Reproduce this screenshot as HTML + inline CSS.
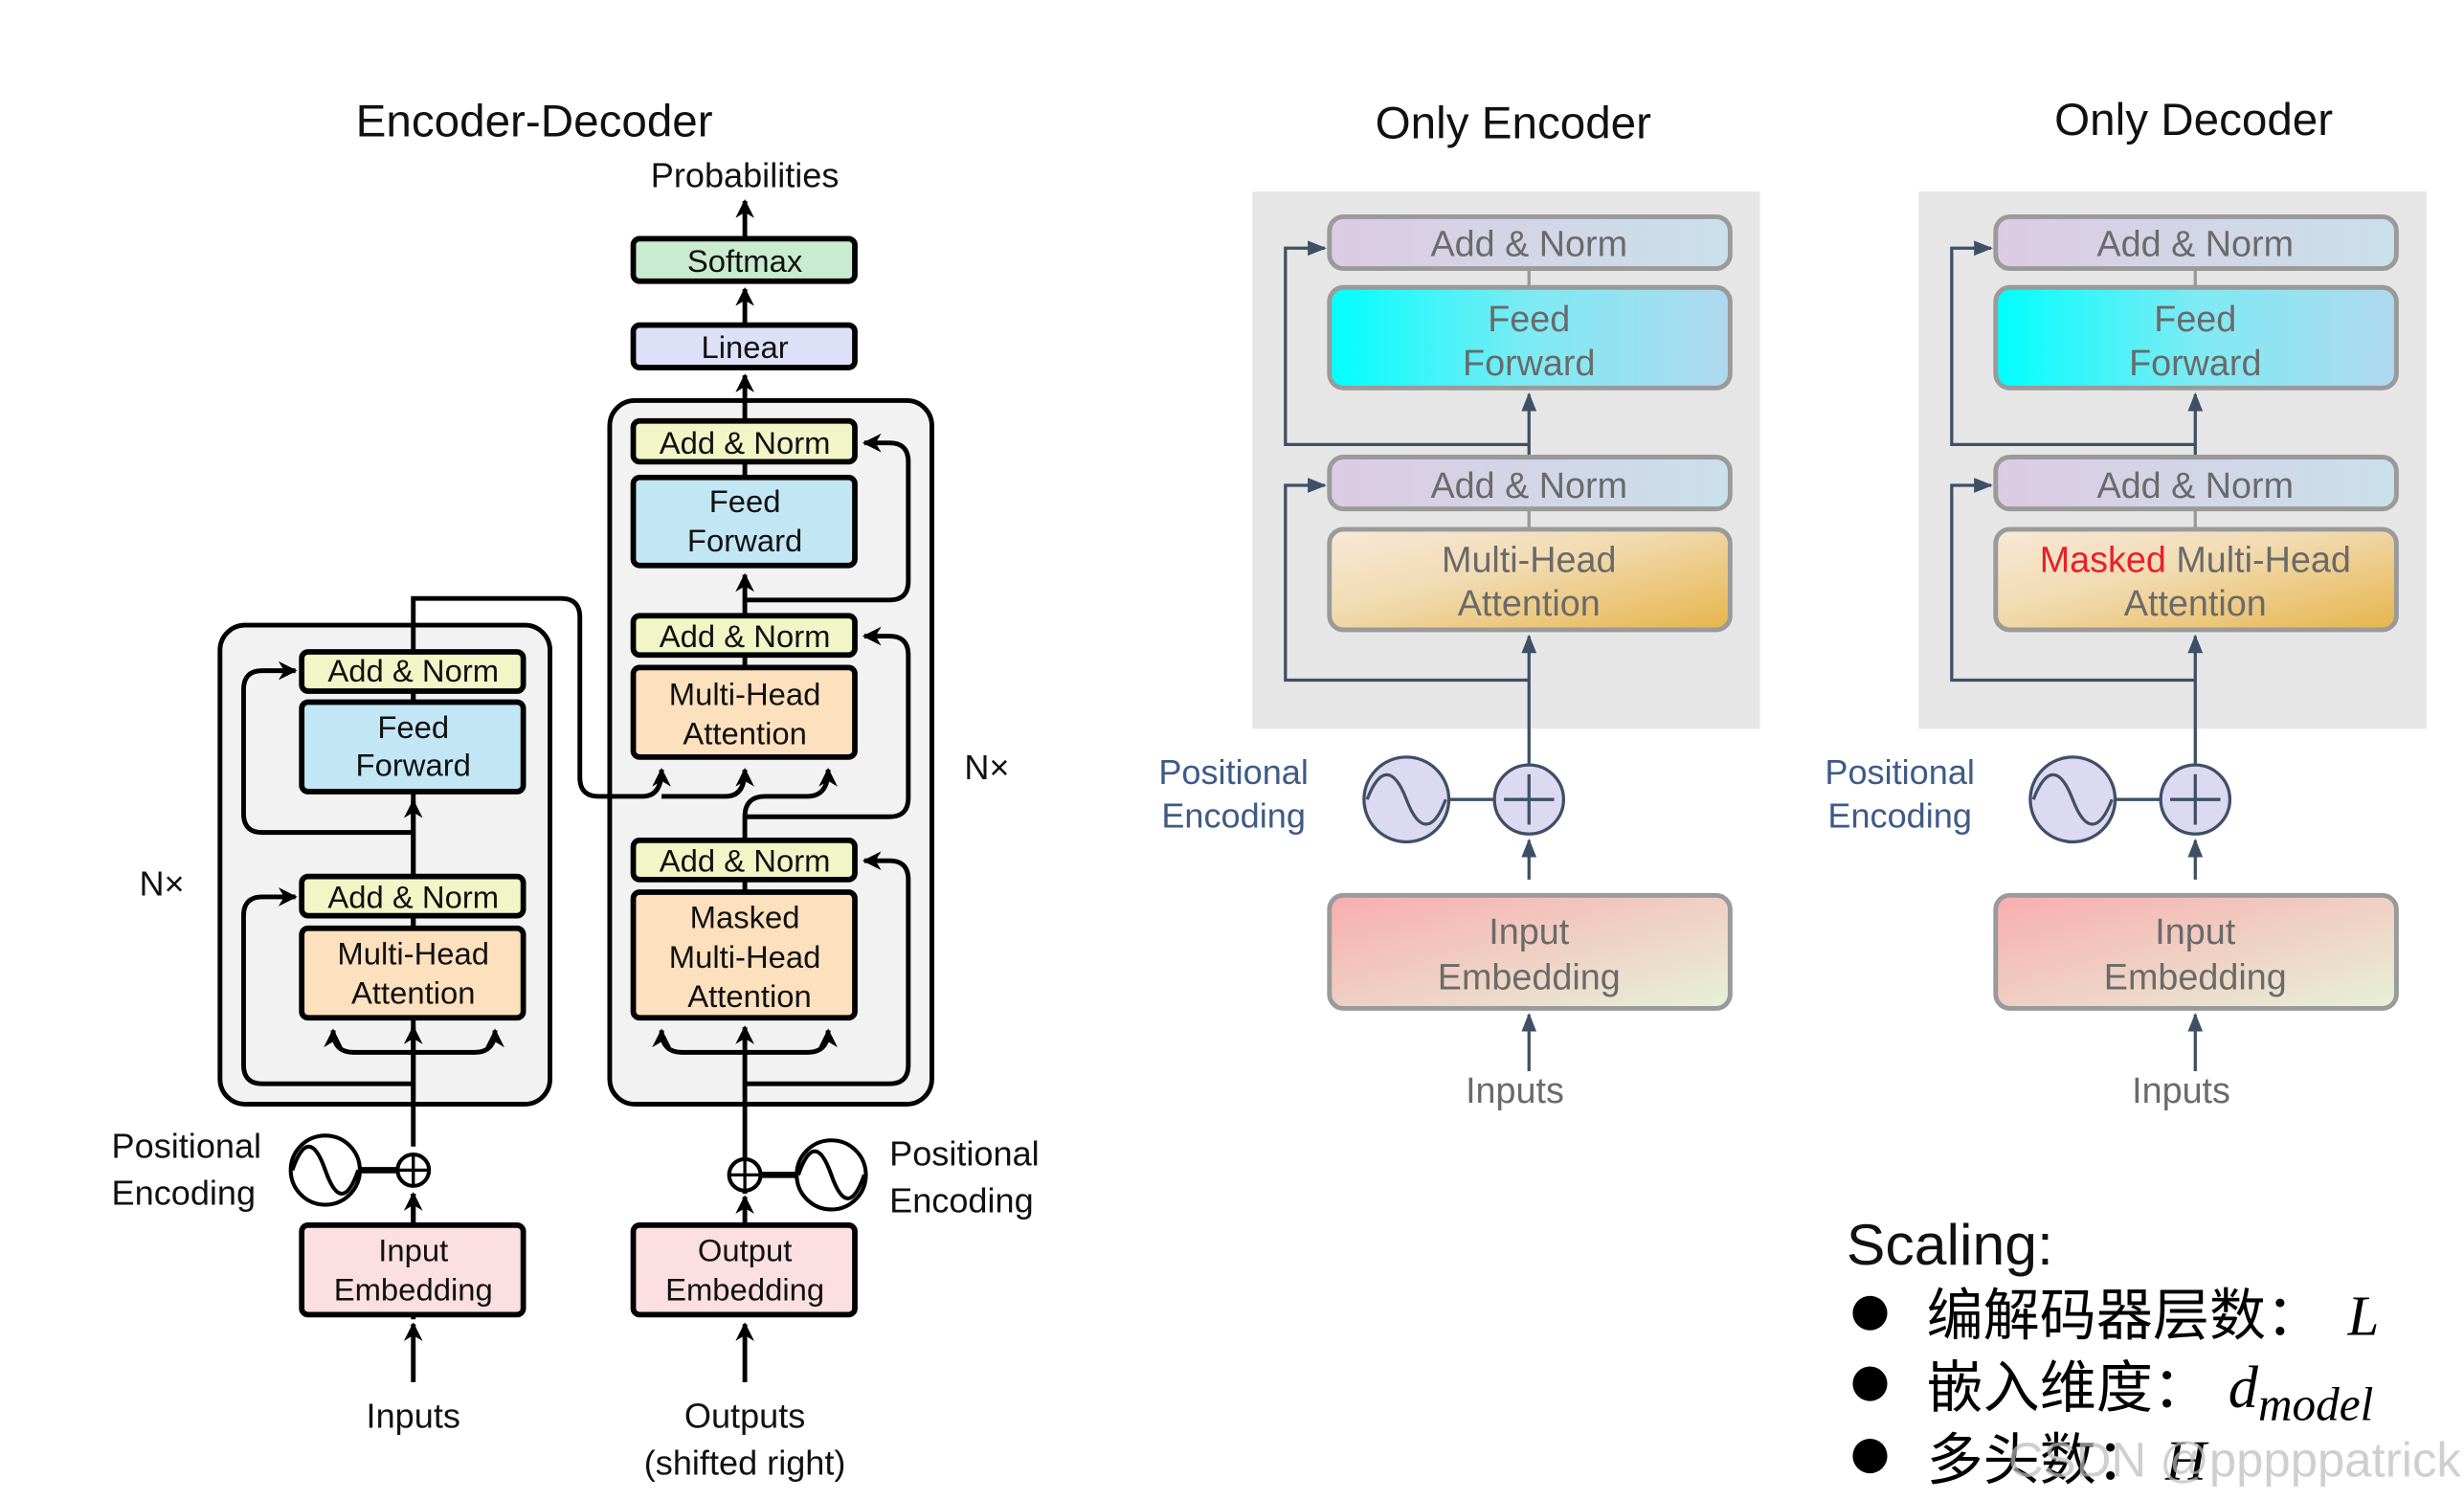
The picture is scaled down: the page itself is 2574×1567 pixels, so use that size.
<!DOCTYPE html>
<html><head><meta charset="utf-8"><style>
html,body{margin:0;padding:0;background:#fff;}
svg{display:block;}
.t{font-family:"Liberation Sans",sans-serif;fill:#111;}
.g{font-family:"Liberation Sans",sans-serif;fill:#6a6a6a;}
.b{fill:none;stroke:#000;stroke-width:3;}
.s{fill:none;stroke:#3f4f66;stroke-width:2;}
</style></head><body>
<svg width="2574" height="1567" viewBox="0 0 1568 955" preserveAspectRatio="none" xmlns="http://www.w3.org/2000/svg">
<defs>
<marker id="ab" viewBox="0 0 10 10" refX="9" refY="5" markerWidth="4" markerHeight="4" orient="auto-start-reverse"><path d="M0,0 L10,5 L0,10 L3,5 z" fill="#000"/></marker>
<marker id="as" viewBox="0 0 10 10" refX="9" refY="5" markerWidth="6" markerHeight="6" orient="auto-start-reverse"><path d="M0,1 L10,5 L0,9 z" fill="#3f4f66"/></marker>
<linearGradient id="gan" x1="0" y1="0" x2="1" y2="0"><stop offset="0" stop-color="#dccbe4"/><stop offset="1" stop-color="#c9e0ea"/></linearGradient>
<linearGradient id="gff" x1="0" y1="0" x2="1" y2="0"><stop offset="0" stop-color="#00ffff"/><stop offset="0.5" stop-color="#7eeaf3"/><stop offset="1" stop-color="#b0d8ef"/></linearGradient>
<linearGradient id="gmh" x1="0" y1="0" x2="1" y2="1"><stop offset="0" stop-color="#f7e9d8"/><stop offset="0.4" stop-color="#f2dcb4"/><stop offset="1" stop-color="#e6b44a"/></linearGradient>
<linearGradient id="gie" x1="0" y1="0" x2="1" y2="1"><stop offset="0" stop-color="#f8adae"/><stop offset="1" stop-color="#e7f1d8"/></linearGradient>
</defs>

<!-- titles -->
<text class="t" x="340" y="87" font-size="29" text-anchor="middle">Encoder-Decoder</text>
<text class="t" x="963" y="88" font-size="29" text-anchor="middle">Only Encoder</text>
<text class="t" x="1396" y="86" font-size="29" text-anchor="middle">Only Decoder</text>

<!-- ===== Encoder-Decoder ===== -->
<rect x="140" y="398" width="210" height="305" rx="16" fill="#f2f2f2" stroke="#000" stroke-width="3"/>
<rect x="388" y="255" width="205" height="448" rx="16" fill="#f2f2f2" stroke="#000" stroke-width="3"/>

<!-- encoder lines -->
<path class="b" d="M263,840 L263,760"/>
<path class="b" d="M263,730 L263,381 Q263,381 275,381 L357,381 Q369,381 369,393 L369,495 Q369,507 381,507 L409,507 Q421,507 421,490" marker-end="url(#ab)"/>
<path class="b" d="M263,530 L167,530 Q155,530 155,518 L155,439 Q155,427 167,427 L188,427" marker-end="url(#ab)"/>
<path class="b" d="M263,690 L167,690 Q155,690 155,678 L155,583 Q155,571 167,571 L188,571" marker-end="url(#ab)"/>
<path class="b" d="M263,670 L225,670 Q212,670 212,656" marker-end="url(#ab)"/>
<path class="b" d="M263,670 L302,670 Q315,670 315,656" marker-end="url(#ab)"/>
<path class="b" d="M263,700 L263,654" marker-end="url(#ab)"/>
<path class="b" d="M263,558 L263,510" marker-end="url(#ab)"/>
<path class="b" d="M263,780 L263,760" marker-end="url(#ab)"/>
<path class="b" d="M263,880 L263,843" marker-end="url(#ab)"/>

<!-- decoder lines -->
<path class="b" d="M474,760 L474,654" marker-end="url(#ab)"/>
<path class="b" d="M474,780 L474,762" marker-end="url(#ab)"/>
<path class="b" d="M474,880 L474,843" marker-end="url(#ab)"/>
<path class="b" d="M474,670 L434,670 Q421,670 421,656" marker-end="url(#ab)"/>
<path class="b" d="M474,670 L514,670 Q527,670 527,656" marker-end="url(#ab)"/>
<path class="b" d="M474,535 L474,520 Q474,507 487,507 L514,507 Q527,507 527,490" marker-end="url(#ab)"/>
<path class="b" d="M421,507 L462,507 Q474,507 474,490" marker-end="url(#ab)"/>
<path class="b" d="M474,392 L474,366" marker-end="url(#ab)"/>
<path class="b" d="M474,268 L474,239" marker-end="url(#ab)"/>
<path class="b" d="M474,207 L474,184" marker-end="url(#ab)"/>
<path class="b" d="M474,152 L474,128" marker-end="url(#ab)"/>
<path class="b" d="M474,690 L566,690 Q578,690 578,678 L578,560 Q578,548 566,548 L550,548" marker-end="url(#ab)"/>
<path class="b" d="M474,520 L566,520 Q578,520 578,508 L578,417 Q578,405 566,405 L550,405" marker-end="url(#ab)"/>
<path class="b" d="M474,382 L566,382 Q578,382 578,370 L578,294 Q578,282 566,282 L550,282" marker-end="url(#ab)"/>

<!-- boxes left -->
<g stroke="#000" stroke-width="3.5">
<rect x="192" y="415" width="141" height="25" rx="4" fill="#f2f5c6"/>
<rect x="192" y="447" width="141" height="57" rx="4" fill="#c2e6f4"/>
<rect x="192" y="558" width="141" height="25" rx="4" fill="#f2f5c6"/>
<rect x="192" y="591" width="141" height="57" rx="4" fill="#fde0bd"/>
<rect x="192" y="780" width="141" height="57" rx="4" fill="#fbdfe2"/>
<rect x="403" y="268" width="141" height="26" rx="4" fill="#f2f5c6"/>
<rect x="403" y="304" width="141" height="56" rx="4" fill="#c2e6f4"/>
<rect x="403" y="392" width="141" height="25" rx="4" fill="#f2f5c6"/>
<rect x="403" y="425" width="141" height="57" rx="4" fill="#fde0bd"/>
<rect x="403" y="535" width="141" height="25" rx="4" fill="#f2f5c6"/>
<rect x="403" y="568" width="141" height="80" rx="4" fill="#fde0bd"/>
<rect x="403" y="780" width="141" height="57" rx="4" fill="#fbdfe2"/>
<rect x="403" y="207" width="141" height="27" rx="4" fill="#dde0f6"/>
<rect x="403" y="152" width="141" height="27" rx="4" fill="#c9ebcf"/>
</g>
<path class="b" d="M263,440 L263,447 M263,583 L263,591 M474,294 L474,304 M474,417 L474,425 M474,560 L474,568"/>

<g class="t" font-size="20" text-anchor="middle">
<text x="263" y="434">Add &amp; Norm</text>
<text x="263" y="470">Feed</text><text x="263" y="494">Forward</text>
<text x="263" y="578">Add &amp; Norm</text>
<text x="263" y="614">Multi-Head</text><text x="263" y="639">Attention</text>
<text x="263" y="803">Input</text><text x="263" y="828">Embedding</text>
<text x="474" y="289">Add &amp; Norm</text>
<text x="474" y="326">Feed</text><text x="474" y="351">Forward</text>
<text x="474" y="412">Add &amp; Norm</text>
<text x="474" y="449">Multi-Head</text><text x="474" y="474">Attention</text>
<text x="474" y="555">Add &amp; Norm</text>
<text x="474" y="591">Masked</text><text x="474" y="616">Multi-Head</text><text x="477" y="641">Attention</text>
<text x="474" y="803">Output</text><text x="474" y="828">Embedding</text>
<text x="474" y="228">Linear</text>
<text x="474" y="173">Softmax</text>
<text x="474" y="119" font-size="22">Probabilities</text>
<text x="263" y="909" font-size="22">Inputs</text>
<text x="474" y="909" font-size="22">Outputs</text>
<text x="474" y="939" font-size="22">(shifted right)</text>
<text x="103" y="570" font-size="22">N×</text>
<text x="628" y="496" font-size="22">N×</text>
</g>
<g class="t" font-size="22">
<text x="71" y="737">Positional</text><text x="71" y="767">Encoding</text>
<text x="566" y="742">Positional</text><text x="566" y="772">Encoding</text>
</g>
<!-- pos enc left -->
<path d="M229,745 L252,745" stroke="#000" stroke-width="4"/>
<circle cx="207" cy="745" r="22" fill="#fff" stroke="#000" stroke-width="2.5"/>
<path d="M186,745 C193,725 200,725 207,745 C214,765 221,765 228,745" fill="none" stroke="#000" stroke-width="2.5"/>
<circle cx="263" cy="745" r="10" fill="#fff" stroke="#000" stroke-width="2.5"/>
<path d="M254,745 L272,745 M263,736 L263,754" stroke="#000" stroke-width="2"/>
<!-- pos enc right -->
<path d="M484,748 L507,748" stroke="#000" stroke-width="4"/>
<circle cx="529" cy="748" r="22" fill="#fff" stroke="#000" stroke-width="2.5"/>
<path d="M508,748 C515,728 522,728 529,748 C536,768 543,768 550,748" fill="none" stroke="#000" stroke-width="2.5"/>
<circle cx="474" cy="748" r="10" fill="#fff" stroke="#000" stroke-width="2.5"/>
<path d="M465,748 L483,748 M474,739 L474,757" stroke="#000" stroke-width="2"/>

<!-- ===== Only Encoder / Decoder ===== -->
<g id="enc">
<rect x="797" y="122" width="323" height="342" fill="#e6e6e6"/>
<path class="s" d="M973,560 L973,535" marker-end="url(#as)"/>
<path class="s" d="M973,487 L973,405" marker-end="url(#as)"/>
<path class="s" d="M973,433 L818,433 L818,309 L843,309" marker-end="url(#as)"/>
<path class="s" d="M973,291 L973,251" marker-end="url(#as)"/>
<path class="s" d="M973,283 L818,283 L818,158 L843,158" marker-end="url(#as)"/>
<path class="s" d="M973,682 L973,646" marker-end="url(#as)"/>
<path d="M973,171 L973,183 M973,324 L973,337" stroke="#999" stroke-width="2"/>
<g stroke="#9a9a9a" stroke-width="3">
<rect x="846" y="138" width="255" height="33" rx="9" fill="url(#gan)"/>
<rect x="846" y="183" width="255" height="64" rx="9" fill="url(#gff)"/>
<rect x="846" y="291" width="255" height="33" rx="9" fill="url(#gan)"/>
<rect x="846" y="337" width="255" height="64" rx="9" fill="url(#gmh)"/>
<rect x="846" y="570" width="255" height="72" rx="9" fill="url(#gie)"/>
</g>
<path d="M922,509 L951,509" stroke="#3f4f66" stroke-width="2"/>
<circle cx="895" cy="509" r="27" fill="#dcd9f2" stroke="#3f4f66" stroke-width="2"/>
<path d="M870,509 C878,488 887,488 895,509 C903,530 912,530 920,509" fill="none" stroke="#3f4f66" stroke-width="2"/>
<circle cx="973" cy="509" r="22" fill="#dcd9f2" stroke="#3f4f66" stroke-width="2"/>
<path d="M957,509 L989,509 M973,493 L973,525" stroke="#3f4f66" stroke-width="2"/>
<g class="g" font-size="23" text-anchor="middle">
<text x="973" y="163">Add &amp; Norm</text>
<text x="973" y="211">Feed</text><text x="973" y="239">Forward</text>
<text x="973" y="317">Add &amp; Norm</text>
<text x="973" y="364">Multi-Head</text><text x="973" y="392">Attention</text>
<text x="973" y="601">Input</text><text x="973" y="630">Embedding</text>
<text x="964" y="702">Inputs</text>
</g>
<g font-family="Liberation Sans,sans-serif" font-size="22" fill="#3f5a86" text-anchor="middle">
<text x="785" y="499">Positional</text><text x="785" y="527">Encoding</text>
</g>
</g>

<g transform="translate(424,0)">
<rect x="797" y="122" width="323" height="342" fill="#e6e6e6"/>
<path class="s" d="M973,560 L973,535" marker-end="url(#as)"/>
<path class="s" d="M973,487 L973,405" marker-end="url(#as)"/>
<path class="s" d="M973,433 L818,433 L818,309 L843,309" marker-end="url(#as)"/>
<path class="s" d="M973,291 L973,251" marker-end="url(#as)"/>
<path class="s" d="M973,283 L818,283 L818,158 L843,158" marker-end="url(#as)"/>
<path class="s" d="M973,682 L973,646" marker-end="url(#as)"/>
<path d="M973,171 L973,183 M973,324 L973,337" stroke="#999" stroke-width="2"/>
<g stroke="#9a9a9a" stroke-width="3">
<rect x="846" y="138" width="255" height="33" rx="9" fill="url(#gan)"/>
<rect x="846" y="183" width="255" height="64" rx="9" fill="url(#gff)"/>
<rect x="846" y="291" width="255" height="33" rx="9" fill="url(#gan)"/>
<rect x="846" y="337" width="255" height="64" rx="9" fill="url(#gmh)"/>
<rect x="846" y="570" width="255" height="72" rx="9" fill="url(#gie)"/>
</g>
<path d="M922,509 L951,509" stroke="#3f4f66" stroke-width="2"/>
<circle cx="895" cy="509" r="27" fill="#dcd9f2" stroke="#3f4f66" stroke-width="2"/>
<path d="M870,509 C878,488 887,488 895,509 C903,530 912,530 920,509" fill="none" stroke="#3f4f66" stroke-width="2"/>
<circle cx="973" cy="509" r="22" fill="#dcd9f2" stroke="#3f4f66" stroke-width="2"/>
<path d="M957,509 L989,509 M973,493 L973,525" stroke="#3f4f66" stroke-width="2"/>
<g class="g" font-size="23" text-anchor="middle">
<text x="973" y="163">Add &amp; Norm</text>
<text x="973" y="211">Feed</text><text x="973" y="239">Forward</text>
<text x="973" y="317">Add &amp; Norm</text>
<text x="973" y="364"><tspan fill="#e8202a">Masked</tspan> Multi-Head</text><text x="973" y="392">Attention</text>
<text x="973" y="601">Input</text><text x="973" y="630">Embedding</text>
<text x="964" y="702">Inputs</text>
</g>
<g font-family="Liberation Sans,sans-serif" font-size="22" fill="#3f5a86" text-anchor="middle">
<text x="785" y="499">Positional</text><text x="785" y="527">Encoding</text>
</g>
</g>

<!-- Scaling -->
<text x="1175" y="805" font-family="Liberation Sans,sans-serif" font-size="37" fill="#111">Scaling:</text>
<circle cx="1190" cy="836" r="11" fill="#000"/>
<circle cx="1190" cy="881" r="11" fill="#000"/>
<circle cx="1190" cy="927" r="11" fill="#000"/>
<g font-family="'Liberation Sans','Noto Sans CJK SC',sans-serif" font-size="36" fill="#000">
<text x="1226" y="850">编解码器层数：</text>
<text x="1226" y="896">嵌入维度：</text>
<text x="1226" y="942">多头数：</text>
</g>
<g font-family="'Liberation Serif',serif" font-style="italic" fill="#000">
<text x="1494" y="850" font-size="36">L</text>
<text x="1418" y="896" font-size="38">d<tspan font-size="30" dy="8">model</tspan></text>
<text x="1378" y="942" font-size="36">H</text>
</g>
<text x="1278" y="940" font-family="Liberation Sans,sans-serif" font-size="31" fill="#bbb" fill-opacity="0.7">CSDN @pppppatrick</text>
</svg>
</body></html>
